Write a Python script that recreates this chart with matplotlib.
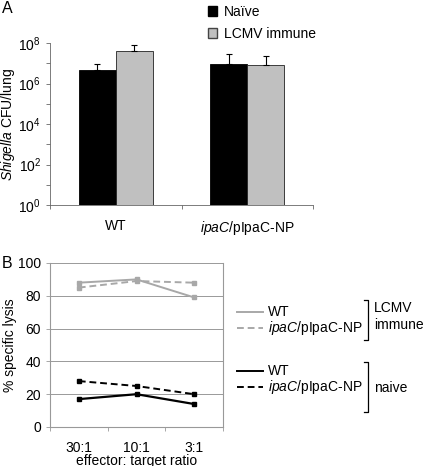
import matplotlib
matplotlib.use("Agg")
import matplotlib.pyplot as plt
from matplotlib.lines import Line2D
from matplotlib.patches import Patch
from matplotlib.ticker import NullFormatter

plt.rcParams["font.family"] = ["Liberation Sans", "DejaVu Sans"]
plt.rcParams["mathtext.fontset"] = "custom"
plt.rcParams["mathtext.rm"] = "Liberation Sans"
plt.rcParams["mathtext.it"] = "Liberation Sans:italic"
plt.rcParams["mathtext.default"] = "regular"

# panel A: bacterial burden
strains = ["WT", r"$\mathit{ipaC}$/pIpaC-NP"]
naive_cfu = [4.8e6, 9.0e6]
naive_err_top = [8.9e6, 2.8e7]
lcmv_cfu = [4.0e7, 8.0e6]
lcmv_err_top = [8.0e7, 2.3e7]

# panel B: specific lysis
ratios = ["30:1", "10:1", "3:1"]
lcmv_wt = [88, 90, 79]
lcmv_ipac = [85, 89, 88]
naive_wt = [17, 20, 14]
naive_ipac = [28, 25, 20]

W, H = 425, 466
FS = 10


def box(l, t, r, b):
    return [l / W, 1 - b / H, (r - l) / W, (b - t) / H]


fig = plt.figure(figsize=(W / 100, H / 100), dpi=100)

# ---------------- panel A ----------------
ax = fig.add_axes(box(50, 43, 313, 205))
xpos = [0.5, 1.5]
bw = 0.28
xn = [x - bw / 2 for x in xpos]
xl = [x + bw / 2 for x in xpos]
ax.bar(xn, naive_cfu, width=bw, color="black", edgecolor="black", linewidth=0.6,
       yerr=[[0, 0], [e - v for e, v in zip(naive_err_top, naive_cfu)]],
       error_kw=dict(ecolor="black", elinewidth=0.8, capsize=2.5, capthick=0.8))
ax.bar(xl, lcmv_cfu, width=bw, color="#c0c0c0", edgecolor="#222222", linewidth=0.6,
       yerr=[[0, 0], [e - v for e, v in zip(lcmv_err_top, lcmv_cfu)]],
       error_kw=dict(ecolor="black", elinewidth=0.8, capsize=2.5, capthick=0.8))
ax.set_yscale("log")
ax.set_ylim(1, 1e8)
ax.set_xlim(0, 2)
ax.set_yticks([1, 1e2, 1e4, 1e6, 1e8])
ax.set_yticklabels([r"$10^{0}$", r"$10^{2}$", r"$10^{4}$", r"$10^{6}$", r"$10^{8}$"], fontsize=FS)
ax.set_yticks([10, 1e3, 1e5, 1e7], minor=True)
ax.yaxis.set_minor_formatter(NullFormatter())
ax.tick_params(axis="y", which="both", length=3, width=0.6, color="#666666")
ax.set_xticks([0, 1, 2], minor=True)
ax.set_xticks(xpos)
ax.set_xticklabels(strains, fontsize=FS)
ax.tick_params(axis="x", which="major", length=0, pad=10)
ax.tick_params(axis="x", which="minor", length=3, width=0.6, color="#666666")
for s in ["top", "right"]:
    ax.spines[s].set_visible(False)
for s in ["left", "bottom"]:
    ax.spines[s].set_color("#666666")
    ax.spines[s].set_linewidth(0.6)
ax.set_ylabel(r"$\mathit{Shigella}$ CFU/lung", fontsize=FS)
ax.yaxis.set_label_coords(-0.125, 0.5)

fig.legend(handles=[Patch(facecolor="black", edgecolor="black", label="Naïve"),
                    Patch(facecolor="#c0c0c0", edgecolor="#444444", label="LCMV immune")],
           loc="upper left", bbox_to_anchor=(195 / W, 1 + 8 / H), frameon=False,
           fontsize=FS, handlelength=0.7, handleheight=0.7, handletextpad=0.5,
           labelspacing=0.6)

fig.text(2 / W, 1 - 1 / H, "A", fontsize=11.5, va="top", ha="left")

# ---------------- panel B ----------------
bx = fig.add_axes(box(50, 263, 223, 427))
xs = range(len(ratios))
gray = "#a8a8a8"
bx.plot(xs, lcmv_wt, color=gray, lw=1.4, marker="s", ms=2.5)
bx.plot(xs, lcmv_ipac, color=gray, lw=1.4, ls=(0, (3.5, 2)), marker="s", ms=2.5)
bx.plot(xs, naive_wt, color="black", lw=1.6, marker="s", ms=2.5)
bx.plot(xs, naive_ipac, color="black", lw=1.4, ls=(0, (3.5, 2)), marker="s", ms=2.5)
bx.set_xlim(-0.5, 2.5)
bx.set_ylim(0, 100)
bx.set_yticks(range(0, 101, 20))
bx.yaxis.grid(True, color="#999999", lw=0.7)
bx.set_axisbelow(True)
bx.set_xticks(list(xs))
bx.set_xticklabels(ratios, fontsize=FS)
bx.set_xticks([-0.5, 0.5, 1.5, 2.5], minor=True)
bx.tick_params(axis="x", which="major", length=0, pad=10)
bx.tick_params(axis="x", which="minor", length=3, width=0.6, color="#999999")
bx.tick_params(axis="y", length=3, width=0.6, color="#999999", labelsize=FS)
bx.spines["top"].set_visible(False)
for s in ["left", "bottom", "right"]:
    bx.spines[s].set_color("#999999")
    bx.spines[s].set_linewidth(0.8)
bx.set_xlabel("effector: target ratio", fontsize=FS, labelpad=-1)
bx.set_ylabel("% specific lysis", fontsize=FS)
bx.yaxis.set_label_coords(-0.19, 0.5)

fig.text(2 / W, 1 - 256 / H, "B", fontsize=11.5, va="top", ha="left")

# custom legend with brackets
lg = fig.add_axes([0, 0, 1, 1])
lg.set_xlim(0, W)
lg.set_ylim(H, 0)
lg.axis("off")
entries = [(312, gray, "-", "WT"), (328, gray, (0, (3.5, 2)), r"$\mathit{ipaC}$/pIpaC-NP"),
           (371, "black", "-", "WT"), (387, "black", (0, (3.5, 2)), r"$\mathit{ipaC}$/pIpaC-NP")]
for y, c, ls, t in entries:
    lg.add_line(Line2D([237, 263], [y, y], color=c, ls=ls, lw=1.4))
    lg.text(268, y, t, fontsize=FS, va="center", ha="left")
for top, bot in [(300, 340), (362, 412)]:
    lg.add_line(Line2D([364, 368, 368, 364], [top, top, bot, bot], color="black", lw=0.9))
lg.text(374, 308, "LCMV", fontsize=FS, va="center", ha="left")
lg.text(374, 325, "immune", fontsize=FS, va="center", ha="left")
lg.text(374, 388, "naive", fontsize=FS, va="center", ha="left")

fig.savefig("out.png", dpi=100)
